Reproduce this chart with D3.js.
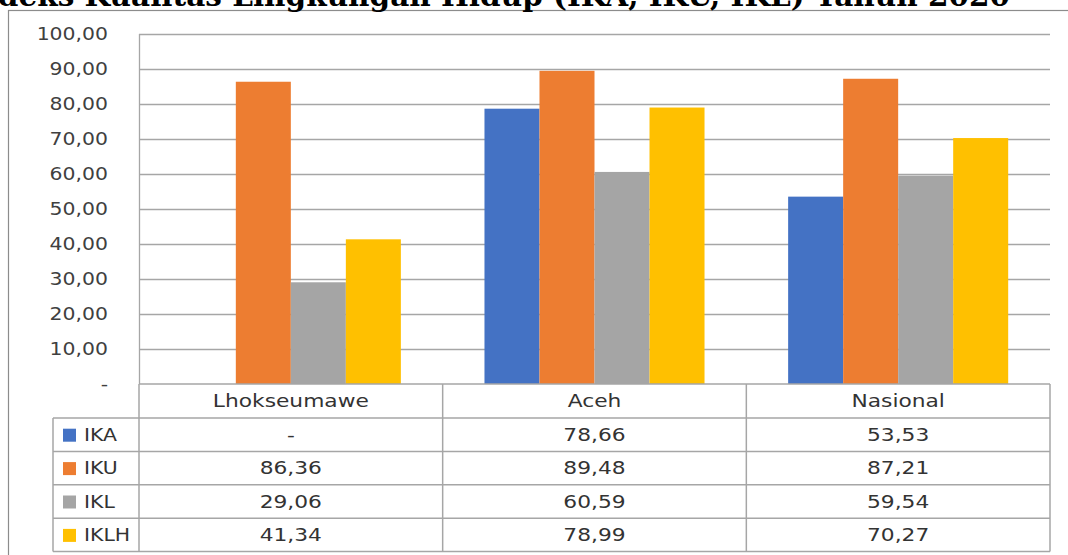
<!DOCTYPE html>
<html>
<head>
<meta charset="utf-8">
<script src="https://cdn.jsdelivr.net/npm/d3@7"></script>
<style>
  body { margin: 0; background: #fff; }
  svg { display: block; }
</style>
</head>
<body>
<svg id="chart" width="1068" height="555"></svg>
<script>
const title = "Indeks Kualitas Lingkungan Hidup (IKA, IKU, IKL) Tahun 2020";
const categories = ["Lhokseumawe", "Aceh", "Nasional"];
const series = ["IKA", "IKU", "IKL", "IKLH"];
const ika = [null, 78.66, 53.53];
const iku = [86.36, 89.48, 87.21];
const ikl = [29.06, 60.59, 59.54];
const iklh = [41.34, 78.99, 70.27];
const yTicks = [0, 10, 20, 30, 40, 50, 60, 70, 80, 90, 100];

const colors = { IKA: "#4472C4", IKU: "#ED7D31", IKL: "#A5A5A5", IKLH: "#FFC000" };
const values = { IKA: ika, IKU: iku, IKL: ikl, IKLH: iklh };

const fmt = v => v == null || v === 0 ? "-" : v.toFixed(2).replace(".", ",");

const svg = d3.select("#chart"),
  plot = {left: 139, right: 1050, top: 34, bottom: 384},
  rowH = 33.4,
  headH = 34,
  legendLeft = 53,
  stretch = 1.2,
  tStretch = 1.28;

// outer chart frame (runs off the picture on the right and bottom)
svg.append("rect")
  .attr("x", 8.5).attr("y", 10.5)
  .attr("width", 1080).attr("height", 560)
  .attr("fill", "none").attr("stroke", "#8c8c8c").attr("stroke-width", 1.2);

// title, cut off at the top edge like the source picture
svg.append("text")
  .attr("x", 1010).attr("y", 6)
  .attr("text-anchor", "end")
  .attr("font-family", "DejaVu Serif")
  .attr("font-weight", "bold")
  .attr("font-size", 29.5)
  .attr("fill", "#000")
  .text(title);

const x0 = d3.scaleBand().domain(categories).range([plot.left, plot.right]);
const x1 = d3.scaleBand().domain(series).range([0, x0.bandwidth()]).paddingInner(0).paddingOuter(0.76);
const y = d3.scaleLinear().domain([0, 100]).range([plot.bottom, plot.top]);

// gridlines
svg.append("g").selectAll("line").data(yTicks.filter(d => d > 0)).join("line")
  .attr("x1", plot.left).attr("x2", plot.right)
  .attr("y1", d => Math.round(y(d)) + 0.5).attr("y2", d => Math.round(y(d)) + 0.5)
  .attr("stroke", "#a6a6a6").attr("stroke-width", 1.3);

svg.append("line")
  .attr("x1", plot.left + 0.5).attr("x2", plot.left + 0.5)
  .attr("y1", plot.top).attr("y2", plot.bottom)
  .attr("stroke", "#a6a6a6").attr("stroke-width", 1.3);

// y tick labels
svg.append("g").selectAll("text").data(yTicks).join("text")
  .attr("transform", d => `translate(108,${y(d) + 6}) scale(${stretch},1)`)
  .attr("text-anchor", "end")
  .attr("font-family", "DejaVu Sans")
  .attr("font-size", 17)
  .attr("fill", "#404040")
  .text(d => fmt(d));

// bars
const groups = svg.append("g").selectAll("g").data(categories).join("g")
  .attr("transform", d => `translate(${x0(d)},0)`);

groups.selectAll("rect")
  .data((c, i) => series.map(s => ({s, v: values[s][i]})).filter(d => d.v != null))
  .join("rect")
  .attr("x", d => x1(d.s))
  .attr("width", x1.bandwidth())
  .attr("y", d => y(d.v))
  .attr("height", d => y(0) - y(d.v))
  .attr("fill", d => colors[d.s]);

// data table
const table = svg.append("g")
  .attr("stroke", "#a6a6a6").attr("stroke-width", 1.5).attr("fill", "none");
const tableBottom = plot.bottom + headH + rowH * series.length;

table.append("line")
  .attr("x1", plot.left).attr("x2", plot.right)
  .attr("y1", plot.bottom).attr("y2", plot.bottom);
table.selectAll("line.row").data(d3.range(series.length + 1)).join("line")
  .attr("class", "row")
  .attr("x1", legendLeft).attr("x2", plot.right)
  .attr("y1", i => plot.bottom + headH + i * rowH)
  .attr("y2", i => plot.bottom + headH + i * rowH);
table.append("line")
  .attr("x1", legendLeft).attr("x2", legendLeft)
  .attr("y1", plot.bottom + headH).attr("y2", tableBottom);
table.selectAll("line.col").data(categories.map(c => x0(c)).concat([plot.right])).join("line")
  .attr("class", "col")
  .attr("x1", d => d).attr("x2", d => d)
  .attr("y1", plot.bottom).attr("y2", tableBottom);

const textStyle = sel => sel
  .attr("font-family", "DejaVu Sans")
  .attr("font-size", 17)
  .attr("fill", "#333");

// header
svg.append("g").selectAll("text").data(categories).join("text")
  .attr("transform", d => `translate(${x0(d) + x0.bandwidth() / 2},${plot.bottom + headH / 2 + 6}) scale(${tStretch},1)`)
  .attr("text-anchor", "middle")
  .call(textStyle)
  .text(d => d);

// rows
const rows = svg.append("g").selectAll("g").data(series).join("g")
  .attr("transform", (s, i) => `translate(0,${plot.bottom + headH + i * rowH + rowH / 2})`);

rows.append("rect")
  .attr("x", 63).attr("y", -6).attr("width", 13).attr("height", 13)
  .attr("fill", s => colors[s]);

rows.append("text")
  .attr("transform", `translate(84,6) scale(${stretch},1)`)
  .call(textStyle)
  .text(s => s);

rows.selectAll("text.val").data(s => categories.map((c, i) => ({c, v: values[s][i]}))).join("text")
  .attr("class", "val")
  .attr("transform", d => `translate(${x0(d.c) + x0.bandwidth() / 2},6) scale(${tStretch},1)`)
  .attr("text-anchor", "middle")
  .call(textStyle)
  .text(d => fmt(d.v));
</script>
</body>
</html>
